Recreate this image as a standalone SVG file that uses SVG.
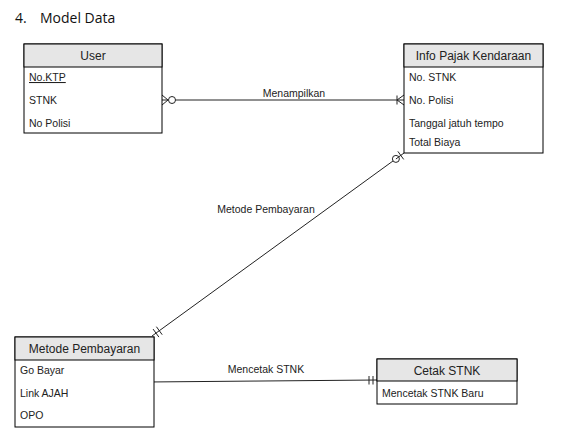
<svg xmlns="http://www.w3.org/2000/svg" width="572" height="445" viewBox="0 0 572 445">
<style>
.box{fill:#ffffff;stroke:#000;stroke-width:1}
.hdr{fill:#e6e6e6;stroke:#000;stroke-width:1}
.ht{font-family:"Liberation Sans",Arial,sans-serif;font-size:12px;fill:#222;text-anchor:middle}
.rt{font-family:"Liberation Sans",Arial,sans-serif;font-size:10.5px;fill:#222}
.lbl{font-family:"Liberation Sans",Arial,sans-serif;font-size:10.5px;fill:#222;text-anchor:middle}
.ln{fill:none;stroke:#222;stroke-width:1}
</style>
<rect width="572" height="445" fill="#fff"/>
<text x="15" y="23" font-family="'Open Sans',Calibri,sans-serif" font-size="14" fill="#111">4.<tspan x="40">Model Data</tspan></text>

<g id="connectors">
  <!-- User - Info Pajak -->
  <line class="ln" x1="175.5" y1="100" x2="404" y2="100"/>
  <path class="ln" d="M162,95 L168,100 L162,105 M162,100 L168,100"/>
  <circle class="ln" cx="172" cy="100" r="3.5" fill="#fff"/>
  <path class="ln" d="M397,95.5 V104.5 M404,95 L397,100 L404,105"/>
  <text class="lbl" x="294" y="97">Menampilkan</text>
  <!-- Info Pajak - Metode Pembayaran -->
  <line class="ln" x1="152" y1="336" x2="393.1" y2="160.9"/>
  <circle class="ln" cx="395.9" cy="158.9" r="3.5" fill="#fff"/>
  <path class="ln" d="M397.9,151.4 L403.7,159.4 M395.9,159 L404,153"/>
  <path class="ln" d="M153.1,329.1 L158.9,337.1 M156.4,326.7 L162.2,334.7"/>
  <text class="lbl" x="266" y="213">Metode Pembayaran</text>
  <!-- Metode Pembayaran - Cetak STNK -->
  <line class="ln" x1="147" y1="382" x2="377" y2="380"/>
  <path class="ln" d="M369,376 V384.5 M373,376 V384.5"/>
  <text class="lbl" x="266" y="373">Mencetak STNK</text>
</g>

<g id="user">
  <rect class="box" x="24" y="44" width="138" height="89"/>
  <rect class="hdr" x="24" y="44" width="138" height="23"/>
  <text class="ht" x="93" y="60">User</text>
  <text class="rt" x="29" y="81" text-decoration="underline">No.KTP</text>
  <text class="rt" x="29" y="104">STNK</text>
  <text class="rt" x="29" y="127">No Polisi</text>
</g>

<g id="info-pajak">
  <rect class="box" x="404" y="44" width="139" height="109"/>
  <rect class="hdr" x="404" y="44" width="139" height="23"/>
  <text class="ht" x="473.5" y="60">Info Pajak Kendaraan</text>
  <text class="rt" x="409" y="81">No. STNK</text>
  <text class="rt" x="409" y="104">No. Polisi</text>
  <text class="rt" x="409" y="127">Tanggal jatuh tempo</text>
  <text class="rt" x="409" y="146">Total Biaya</text>
</g>

<g id="metode-pembayaran">
  <rect class="box" x="15" y="337" width="139" height="90"/>
  <rect class="hdr" x="15" y="337" width="139" height="23"/>
  <text class="ht" x="84.5" y="353">Metode Pembayaran</text>
  <text class="rt" x="20" y="374">Go Bayar</text>
  <text class="rt" x="20" y="397">Link AJAH</text>
  <text class="rt" x="20" y="419">OPO</text>
</g>

<g id="cetak-stnk">
  <rect class="box" x="377" y="359" width="140" height="45"/>
  <rect class="hdr" x="377" y="359" width="140" height="22"/>
  <text class="ht" x="447" y="375">Cetak STNK</text>
  <text class="rt" x="382" y="397">Mencetak STNK Baru</text>
</g>
</svg>
